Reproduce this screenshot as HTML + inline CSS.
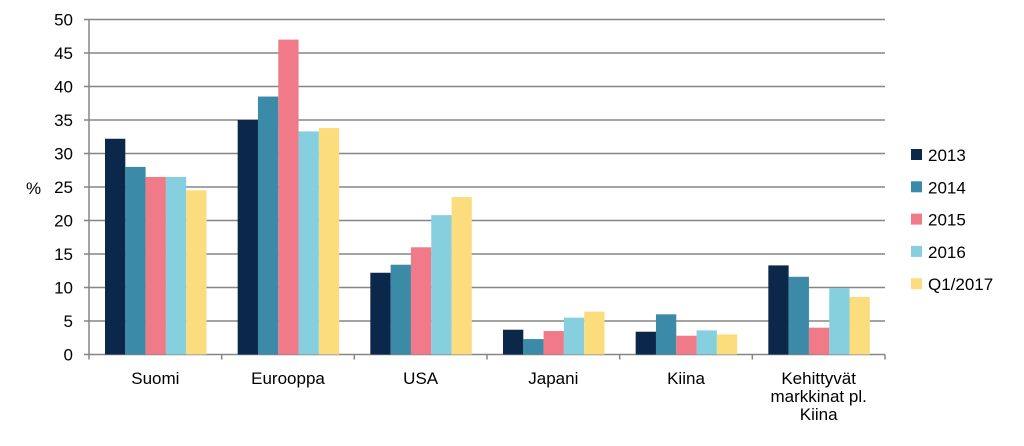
<!DOCTYPE html>
<html><head><meta charset="utf-8"><style>
body{margin:0;background:#fff;}
svg{font-family:"Liberation Sans",sans-serif;}
</style></head><body>
<svg id="c" width="1024" height="441"></svg>
<script>
const categories=[["Suomi"],["Eurooppa"],["USA"],["Japani"],["Kiina"],["Kehittyvät","markkinat pl.","Kiina"]];
const seriesNames=["2013","2014","2015","2016","Q1/2017"];
const s2013=[32.2,35,12.2,3.7,3.4,13.3];
const s2014=[28,38.5,13.4,2.3,6,11.6];
const s2015=[26.5,47,16,3.5,2.8,4];
const s2016=[26.5,33.3,20.8,5.5,3.6,9.9];
const sQ1=[24.5,33.8,23.5,6.4,3,8.6];
const yTicks=[0,5,10,15,20,25,30,35,40,45,50];
const series=[s2013,s2014,s2015,s2016,sQ1];
const colors=["#0b2749","#3a8aa8","#f07a88","#86cfdf","#fbdd7e"];
const NS="http://www.w3.org/2000/svg";
const svg=document.getElementById('c');
const X0=89,X1=885,Y0=354.5,Y1=19.5,YMAX=50;
const gw=(X1-X0)/categories.length;
const y=v=>Y0-(v/YMAX)*(Y0-Y1);
function mk(t,a){const e=document.createElementNS(NS,t);for(const k in a)e.setAttribute(k,a[k]);svg.appendChild(e);return e;}
yTicks.forEach(t=>{
 const g=mk('line',{x1:X0-5,x2:X1,y1:y(t),y2:y(t),stroke:'#868686','stroke-width':1.5});
 
 
 const l=mk('text',{x:73,y:y(t)+6,'text-anchor':'end','font-size':17,fill:'#000'});
 l.textContent=t;
 
 
});
const yl=mk('text',{x:26,y:194,'font-size':17});yl.textContent='%';


const ax=mk('line',{x1:X0,x2:X0,y1:Y1,y2:Y0,stroke:'#868686','stroke-width':1.5});


const bw=20.3;
categories.forEach((c,i)=>{
 const gx=X0+i*gw;
 series.forEach((s,j)=>{
  const r=mk('rect',{x:gx+16+j*bw,y:y(s[i]),width:bw,height:Y0-y(s[i]),fill:colors[j]});
  
  
 });
 const tk=mk('line',{x1:gx,x2:gx,y1:Y0,y2:Y0+5,stroke:'#868686','stroke-width':1.5});
 
 
 c.forEach((ln,k)=>{
  const t=mk('text',{x:gx+gw/2,y:384+k*18,'text-anchor':'middle','font-size':17});
  t.textContent=ln;
  
  
 });
});
const tk=mk('line',{x1:X1,x2:X1,y1:Y0,y2:Y0+5,stroke:'#868686','stroke-width':1.5});


seriesNames.forEach((n,j)=>{
 const yy=155+j*32.3;
 const r=mk('rect',{x:911,y:yy-6,width:11,height:11,fill:colors[j]});
 
 
 const t=mk('text',{x:928,y:yy+6,'font-size':17});t.textContent=n;
 
 
});
</script>
</body></html>
